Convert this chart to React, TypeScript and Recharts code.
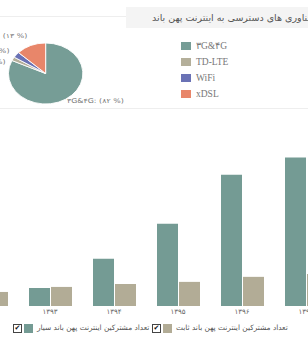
import { PieChart, Pie, Cell, BarChart, Bar, XAxis, YAxis } from "recharts";

// pie: share of access technologies (percent)
const techNames = ["۳G&۴G", "TD-LTE", "WiFi", "xDSL"];
const techShare = [82, 2, 3, 13];
const techLabels = ["۸۲", "۲", "۳", "۱۳"];
const techColors = ["#769d96", "#b4af9a", "#6a72b5", "#e8866a"];

// bars: subscribers per year (millions)
const years = ["۱۳۹۲", "۱۳۹۳", "۱۳۹۴", "۱۳۹۵", "۱۳۹۶", "۱۳۹۷"];
const mobileSubs = [3, 6.8, 17.8, 31, 49.5, 56];
const fixedSubs = [5.3, 7.2, 8.3, 9.1, 11, 12.1];

const mobileName = "تعداد مشترکین اینترنت پهن باند سیار";
const fixedName = "تعداد مشترکین اینترنت پهن باند ثابت";
const title = "سهم مشترکین نسبت به فناوری های دسترسی به اینترنت پهن باند";

const TEAL = "#749b94";
const TAN = "#b2ac96";
const RAD = Math.PI / 180;

const pieData = techNames.map((name, i) => ({
  name,
  value: techShare[i],
  label: techLabels[i],
}));

const barData = years.map((year, i) => ({
  year,
  mobile: mobileSubs[i],
  fixed: fixedSubs[i],
}));

const renderPieLabel = (props: any) => {
  const { cx, cy, midAngle, outerRadius, payload, index } = props;
  const cos = Math.cos(-midAngle * RAD);
  const sin = Math.sin(-midAngle * RAD);
  const r = outerRadius + (cos >= 0 ? 2 : 7);
  const x = cx + r * cos;
  // tiny slices sit next to each other, push the lower one down a bit
  const y = cy + r * sin + (index === 1 ? 6 : 0) - (index === 3 ? 3 : 0);
  return (
    <text
      x={x}
      y={y}
      textAnchor={cos >= 0 ? "start" : "end"}
      dominantBaseline="central"
      fontSize={6.5}
      fontFamily="DejaVu Sans"
      fill="#777"
    >
      {`${payload.name}: (${payload.label} %)`}
    </text>
  );
};

function CheckBox({ left }: { left: number }) {
  return (
    <div
      style={{
        position: "absolute",
        left,
        top: 324,
        width: 7,
        height: 7,
        border: "1px solid #444",
        fontSize: 7,
        lineHeight: "7px",
        textAlign: "center",
        color: "#111",
        fontFamily: "DejaVu Sans",
      }}
    >
      ✔
    </div>
  );
}

export default function App() {
  return (
    <div
      style={{
        position: "relative",
        width: 308,
        height: 344,
        overflow: "hidden",
        background: "#fff",
      }}
    >
      <style>{`body{margin:0}`}</style>

      {/* panel lines */}
      <div style={{ position: "absolute", left: 0, top: 16, width: 126, height: 1, background: "#eeeeee" }} />
      <div style={{ position: "absolute", left: 0, top: 108, width: 308, height: 1, background: "#eeeeee" }} />

      {/* header */}
      <div style={{ position: "absolute", left: 126, top: 7, width: 182, height: 21, background: "#f4f4f4" }} />
      <div
        style={{
          position: "absolute",
          left: 152,
          top: 7,
          height: 21,
          lineHeight: "21px",
          whiteSpace: "nowrap",
          direction: "rtl",
          fontFamily: "DejaVu Sans",
          fontSize: 9.5,
          color: "#555",
        }}
      >
        {title}
      </div>

      {/* pie, stretched horizontally like the reference */}
      <div
        style={{
          position: "absolute",
          left: -40,
          top: 0,
          transform: "scaleX(1.22)",
          transformOrigin: "0 0",
        }}
      >
        <PieChart width={150} height={110}>
          <Pie
            data={pieData}
            dataKey="value"
            cx={65.2}
            cy={68.5}
            outerRadius={30.5}
            startAngle={90}
            endAngle={-270}
            stroke="#fff"
            strokeWidth={0.8}
            label={renderPieLabel}
            labelLine={false}
            isAnimationActive={false}
          >
            {pieData.map((d, i) => (
              <Cell key={d.name} fill={techColors[i]} />
            ))}
          </Pie>
        </PieChart>
      </div>

      {/* pie legend */}
      {techNames.map((name, i) => (
        <div key={name}>
          <div
            style={{
              position: "absolute",
              left: 181,
              top: 42 + i * 16,
              width: 10,
              height: 8,
              background: techColors[i],
            }}
          />
          <div
            style={{
              position: "absolute",
              left: 196,
              top: 39 + i * 16,
              lineHeight: "14px",
              fontFamily: "Liberation Serif",
              fontSize: 9.5,
              color: "#777",
              whiteSpace: "nowrap",
            }}
          >
            {name}
          </div>
        </div>
      ))}

      {/* bars */}
      <div style={{ position: "absolute", left: -46, top: 147 }}>
        <BarChart
          width={384}
          height={179}
          data={barData}
          margin={{ top: 0, right: 0, bottom: 0, left: 0 }}
          barSize={21}
          barGap={1}
        >
          <XAxis
            dataKey="year"
            height={20}
            interval={0}
            tickLine={false}
            axisLine={false}
            tickSize={0}
            tickMargin={3}
            tick={{ fontSize: 7, fill: "#666", fontFamily: "DejaVu Sans" }}
          />
          <YAxis hide domain={[0, 60]} />
          <Bar dataKey="mobile" fill={TEAL} isAnimationActive={false} />
          <Bar dataKey="fixed" fill={TAN} isAnimationActive={false} />
        </BarChart>
      </div>

      {/* series legend */}
      <CheckBox left={13} />
      <div style={{ position: "absolute", left: 24, top: 324, width: 9, height: 9, background: TEAL }} />
      <div
        style={{
          position: "absolute",
          left: 37,
          top: 321,
          lineHeight: "14px",
          fontFamily: "DejaVu Sans",
          fontSize: 7.4,
          color: "#555",
          whiteSpace: "nowrap",
          direction: "rtl",
        }}
      >
        {mobileName}
      </div>
      <CheckBox left={152} />
      <div style={{ position: "absolute", left: 163, top: 324, width: 9, height: 9, background: TAN }} />
      <div
        style={{
          position: "absolute",
          left: 176,
          top: 321,
          lineHeight: "14px",
          fontFamily: "DejaVu Sans",
          fontSize: 7.4,
          color: "#555",
          whiteSpace: "nowrap",
          direction: "rtl",
        }}
      >
        {fixedName}
      </div>
    </div>
  );
}
